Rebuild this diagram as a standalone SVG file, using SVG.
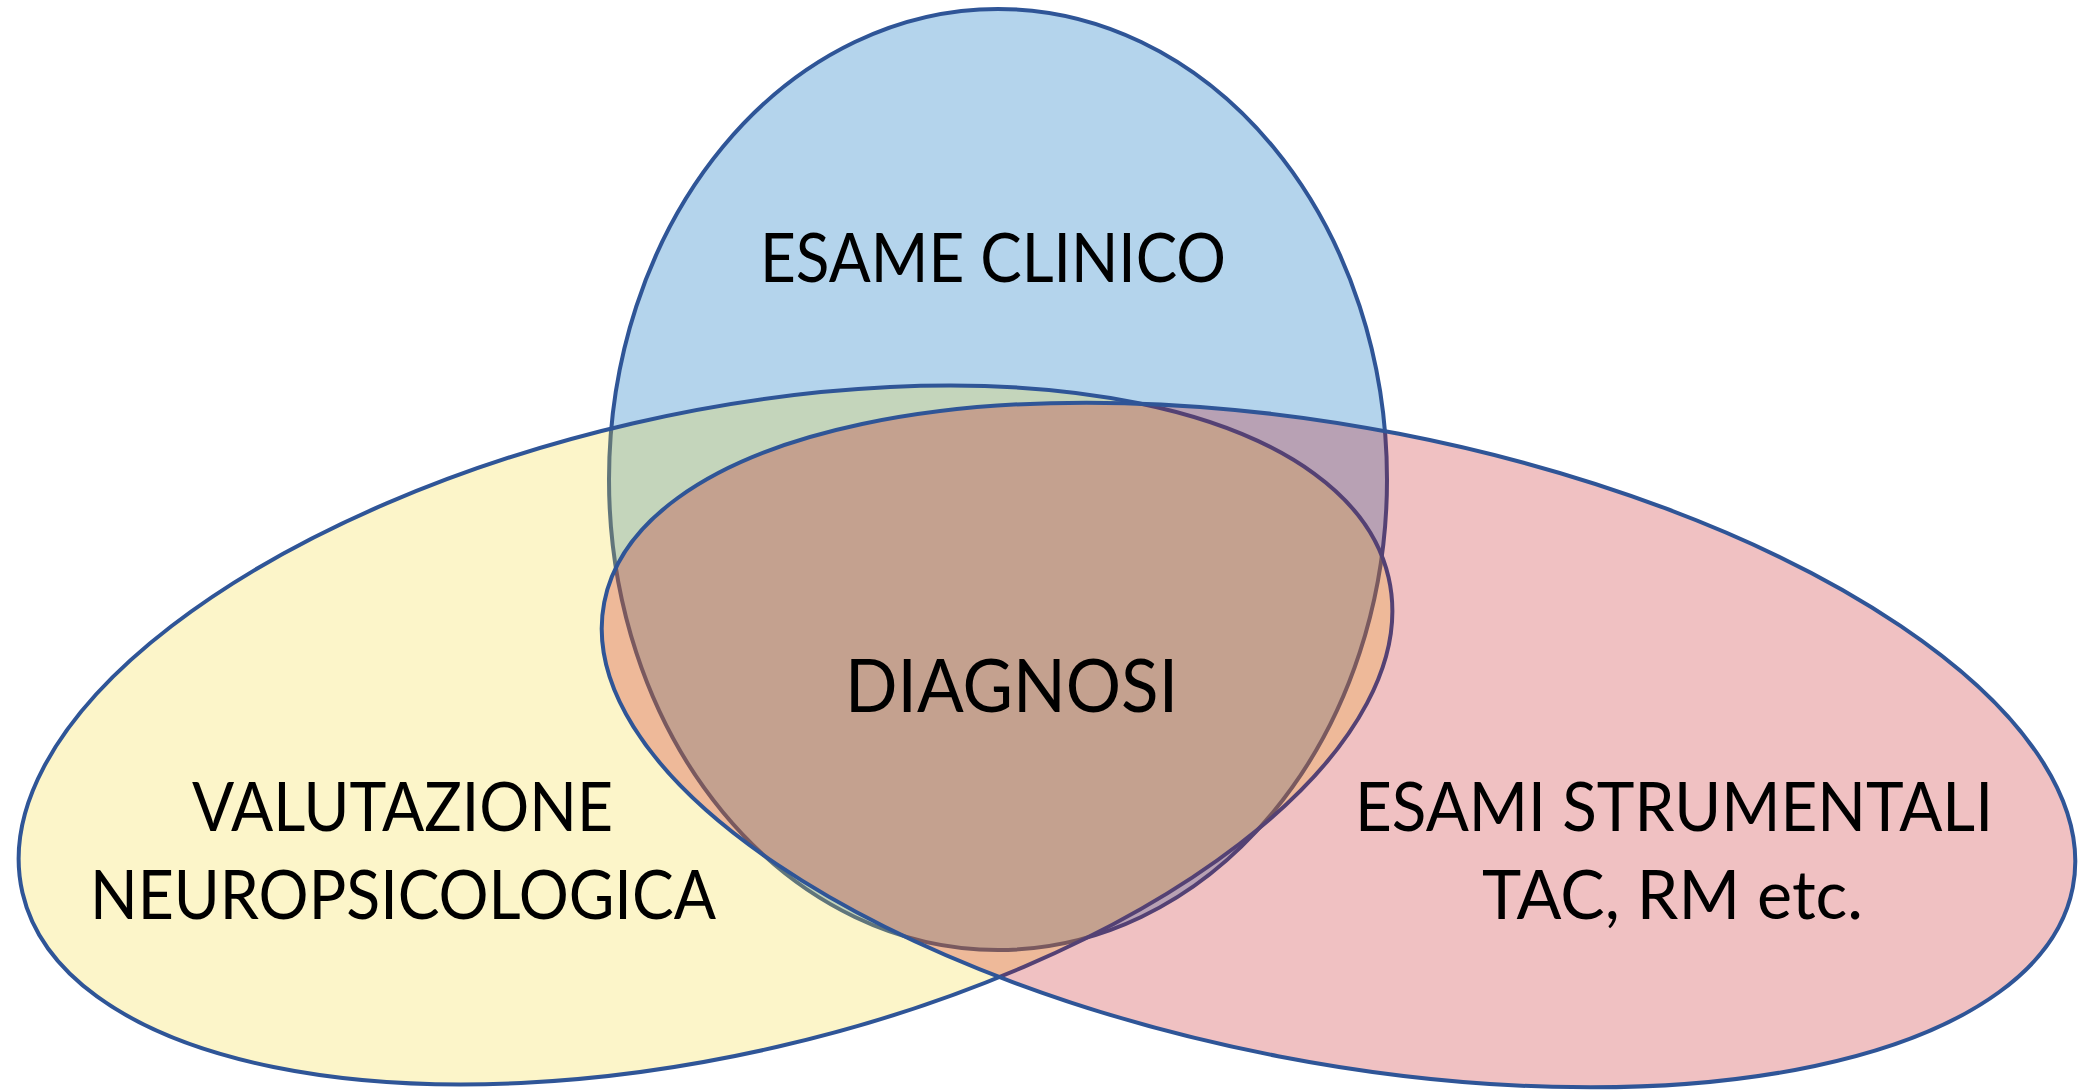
<svg xmlns="http://www.w3.org/2000/svg" width="2079" height="1090" viewBox="0 0 2079 1090">
<style>
  .set { stroke: #2F5597; stroke-width: 4; }
  .lbl { font-family: Lato, "Open Sans", "Liberation Sans", sans-serif; fill: #000000; text-anchor: middle; }
</style>
<rect x="0" y="0" width="2079" height="1090" fill="#FFFFFF"/>
<g id="sets">
  <g id="esame-clinico">
    <ellipse class="set" cx="998" cy="479.5" rx="389" ry="470.5" fill="#B4D4EC"/>
  </g>
  <g id="valutazione-neuropsicologica">
    <ellipse class="set" cx="705.5" cy="735" rx="701" ry="320" transform="rotate(-13 705.5 735)" fill="rgb(243,215,40)" fill-opacity="0.25"/>
  </g>
  <g id="esami-strumentali">
    <ellipse class="set" cx="1338.5" cy="745" rx="748" ry="317" transform="rotate(11 1338.5 745)" fill="rgb(195,8,12)" fill-opacity="0.25"/>
  </g>
</g>
<g id="labels">
  <g id="label-esame-clinico">
    <text class="lbl" x="993" y="282" font-size="67" textLength="466" lengthAdjust="spacingAndGlyphs">ESAME CLINICO</text>
  </g>
  <g id="label-diagnosi">
    <text class="lbl" x="1011.5" y="712" font-size="73" textLength="333" lengthAdjust="spacingAndGlyphs">DIAGNOSI</text>
  </g>
  <g id="label-valutazione">
    <text class="lbl" x="402.5" y="831" font-size="68" textLength="421" lengthAdjust="spacingAndGlyphs">VALUTAZIONE</text>
    <text class="lbl" x="403" y="919" font-size="68" textLength="626" lengthAdjust="spacingAndGlyphs">NEUROPSICOLOGICA</text>
  </g>
  <g id="label-esami-strumentali">
    <text class="lbl" x="1674" y="831" font-size="68" textLength="638" lengthAdjust="spacingAndGlyphs">ESAMI STRUMENTALI</text>
    <text class="lbl" x="1672.5" y="919" font-size="68" textLength="381" lengthAdjust="spacingAndGlyphs">TAC, RM etc.</text>
  </g>
</g>
</svg>
